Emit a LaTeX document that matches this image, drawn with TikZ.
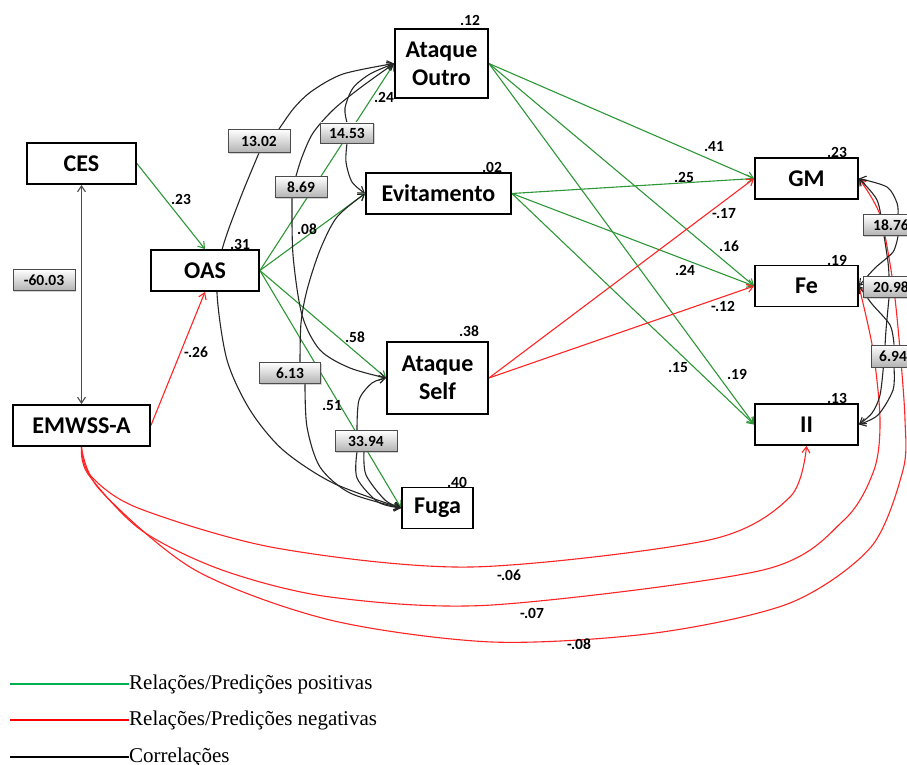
\documentclass[tikz,border=0pt]{standalone}
\usepackage{fontspec}
\setmainfont{Carlito}
\newfontfamily\legfont{Liberation Serif}
\usetikzlibrary{arrows.meta,backgrounds,shadows}

\definecolor{posgreen}{RGB}{45,150,55}
\definecolor{negred}{RGB}{255,35,35}
\definecolor{leggreen}{RGB}{0,176,80}

\tikzset{
  varbox/.style={draw, line width=1.8pt, fill=white, inner sep=0pt, align=center,
    font=\fontsize{24}{28}\selectfont\bfseries},
  coef/.style={inner sep=0pt, font=\fontsize{15.5}{16}\selectfont\bfseries},
  covbox/.style={draw=black!70, line width=0.8pt, top color=white, bottom color=black!30,
    minimum width=62pt, minimum height=21pt, inner sep=0pt,
    drop shadow={shadow xshift=1.2pt, shadow yshift=-1.2pt, opacity=0.35},
    font=\fontsize{15.5}{16}\selectfont\bfseries},
  covtip/.style={-{Straight Barb[length=6pt,width=8pt]}},
  posline/.style={posgreen, line width=1.1pt, covtip},
  negline/.style={negred, line width=1.1pt, covtip},
  covline/.style={black!85, line width=1.1pt, covtip},
  legtext/.style={inner sep=0pt, anchor=west, font=\legfont\fontsize{21}{24}\selectfont},
}

\begin{document}
\begin{tikzpicture}[x=1pt, y=-1pt]
\useasboundingbox (0,0) rectangle (907,765);

% variables
\node[varbox, minimum width=109pt, minimum height=41pt] (CES) at (81.5,163.5) {CES};
\node[varbox, minimum width=137pt, minimum height=41pt] (EM) at (81.5,425.5) {EMWSS-A};
\node[varbox, minimum width=108pt, minimum height=41pt] (OAS) at (205,270.5) {OAS};
\node[varbox, minimum width=93pt, minimum height=69pt] (AO) at (441.5,63.5) {Ataque\\Outro};
\node[varbox, minimum width=145pt, minimum height=41pt] (EV) at (438.5,193.5) {Evitamento};
\node[varbox, minimum width=101pt, minimum height=72pt] (AS) at (437.5,378) {Ataque\\Self};
\node[varbox, minimum width=71pt, minimum height=41pt] (FU) at (437.5,508) {Fuga};
\node[varbox, minimum width=103pt, minimum height=41pt] (GM) at (806.5,178.5) {GM};
\node[varbox, minimum width=103pt, minimum height=41pt] (FE) at (806.5,286) {Fe};
\node[varbox, minimum width=103pt, minimum height=41pt] (II) at (806.5,424.5) {II};

% explained variance
\node[coef] (r1) at (470,20) {.12};
\node[coef] (r2) at (492,167) {.02};
\node[coef] (r3) at (240,244) {.31};
\node[coef] (r4) at (469,331) {.38};
\node[coef] (r5) at (457,482) {.40};
\node[coef] (r6) at (837,152) {.23};
\node[coef] (r7) at (837,260) {.19};
\node[coef] (r8) at (837,398) {.13};

% path coefficients
\node[coef] (c1) at (181,199) {.23};
\node[coef] (c2) at (196,352) {-.26};
\node[coef] (c3) at (384,97) {.24};
\node[coef] (c4) at (307,229) {.08};
\node[coef] (c5) at (355,337) {.58};
\node[coef] (c6) at (332,406) {.51};
\node[coef] (c7) at (714,147) {.41};
\node[coef] (c8) at (684,177) {.25};
\node[coef] (c9) at (724,214) {-.17};
\node[coef] (c10) at (729,246) {.16};
\node[coef] (c11) at (685,270) {.24};
\node[coef] (c12) at (723,306) {-.12};
\node[coef] (c13) at (678,368) {.15};
\node[coef] (c14) at (737,374) {.19};
\node[coef] (c15) at (509,575) {-.06};
\node[coef] (c16) at (532,613) {-.07};
\node[coef] (c17) at (579,644) {-.08};

% covariances
\node[covbox] (v1) at (44,280) {-60.03};
\node[covbox, minimum height=23pt] (v2) at (259,141) {13.02};
\node[covbox, minimum width=53pt, minimum height=20pt] (v3) at (347,133) {14.53};
\node[covbox, minimum width=52pt] (v4) at (301,187) {8.69};
\node[covbox, minimum width=61pt] (v5) at (290,373) {6.13};
\node[covbox] (v6) at (366,441) {33.94};
\node[covbox, minimum width=56pt] (v7) at (891,225) {18.76};
\node[covbox, minimum width=56pt] (v8) at (891,287) {20.98};
\node[covbox, minimum width=44pt, minimum height=22pt] (v9) at (893,356) {6.94};

\begin{scope}[on background layer]
  % positive paths
  \draw[posline] (CES.east) -- (OAS.north);
  \foreach \t in {AO,EV,AS,FU} \draw[posline] (OAS.east) -- (\t.west);
  \foreach \s in {AO,EV}
    \foreach \t in {GM,FE,II} \draw[posline] (\s.east) -- (\t.west);

  % negative paths
  \draw[negline] (EM.east) -- (OAS.south);
  \draw[negline] (AS.east) -- (GM.west);
  \draw[negline] (AS.east) -- (FE.west);
  \draw[negline] plot[smooth] coordinates {(EM.south) (90,475) (138,508) (276,548) (471,567) (709,540) (790,497) (II.south)};
  \draw[negline] plot[smooth] coordinates {(EM.south) (88,474) (141,530) (222,570) (330,597) (492,605) (763,570) (844,520) (874,470) (880,420) (873,350) (FE.east)};
  \draw[negline] plot[smooth] coordinates {(EM.south) (100,490) (195,570) (330,620) (492,642) (655,633) (790,603) (871,547) (903,470) (905,420) (900,350) (893,283) (880,215) (GM.east)};

  % correlations
  \draw[covline, black!70, {Straight Barb[length=6pt,width=8pt]}-{Straight Barb[length=6pt,width=8pt]}] (CES.south) -- (EM.north);
  \draw[covline] plot[smooth] coordinates {([xshift=20pt]v2.north) (294,108) (312,91) (343,74) (AO.west)};
  \draw[covline] plot[smooth] coordinates {(v2.south) (240,199) (222,250) (217,293) (227,360) (250,410) (283,450) (333,483) (FU.west)};
  \draw[covline] plot[smooth] coordinates {(v3.north) (345,108) (353,88) (370,74) (AO.west)};
  \draw[covline] plot[smooth] coordinates {(v3.south) (346,162) (352,182) (EV.west)};
  \draw[covline] plot[smooth] coordinates {([xshift=-5pt]v4.north) (302,157) (313,133) (333,110) (360,88) (AO.west)};
  \draw[covline] plot[smooth] coordinates {([xshift=-9pt]v4.south) (293,255) (302,315) (320,350) (350,368) (AS.west)};
  \draw[covline] plot[smooth] coordinates {([xshift=10pt]v5.north) (301,323) (307,290) (320,250) (337,217) (EV.west)};
  \draw[covline] plot[smooth] coordinates {([xshift=15pt]v5.south) (307,427) (320,467) (350,493) (FU.west)};
  \draw[covline] plot[smooth] coordinates {([xshift=-9pt]v6.north) (359,400) (372,383) (AS.west)};
  \draw[covline] plot[smooth] coordinates {([xshift=-9pt]v6.south) (357,478) (378,502) (FU.west)};
  \draw[covline] plot[smooth] coordinates {([xshift=-2pt]v6.south) (366,475) (385,500) (FU.west)};
  \draw[covline] plot[smooth] coordinates {([xshift=7pt]v7.north) (897,203) (887,187) (GM.east)};
  \draw[covline] plot[smooth] coordinates {([xshift=7pt]v7.south) (893,252) (875,268) (FE.east)};
  \draw[covline] plot[smooth] coordinates {([xshift=-2pt]v8.north) (888,262) (883,230) (877,200) (GM.east)};
  \draw[covline] plot[smooth] coordinates {([xshift=-2pt]v8.south) (886,330) (884,360) (880,395) (872,413) (II.east)};
  \draw[covline] plot[smooth] coordinates {([xshift=1pt]v9.north) (890,325) (872,304) (FE.east)};
  \draw[covline] plot[smooth] coordinates {([xshift=1pt]v9.south) (893,390) (878,415) (II.east)};
\end{scope}

% legend
\coordinate (lg1) at (10,684);
\coordinate (lg2) at (10,720);
\coordinate (lg3) at (10,757);
\node[legtext] (t1) at (129,684) {Relações/Predições positivas};
\node[legtext] (t2) at (129,720) {Relações/Predições negativas};
\node[legtext] (t3) at (129,757) {Correlações};
\draw[leggreen, line width=1.5pt] (lg1) -- (t1.west);
\draw[red, line width=1.5pt] (lg2) -- (t2.west);
\draw[black, line width=1.5pt] (lg3) -- (t3.west);
\end{tikzpicture}
\end{document}
